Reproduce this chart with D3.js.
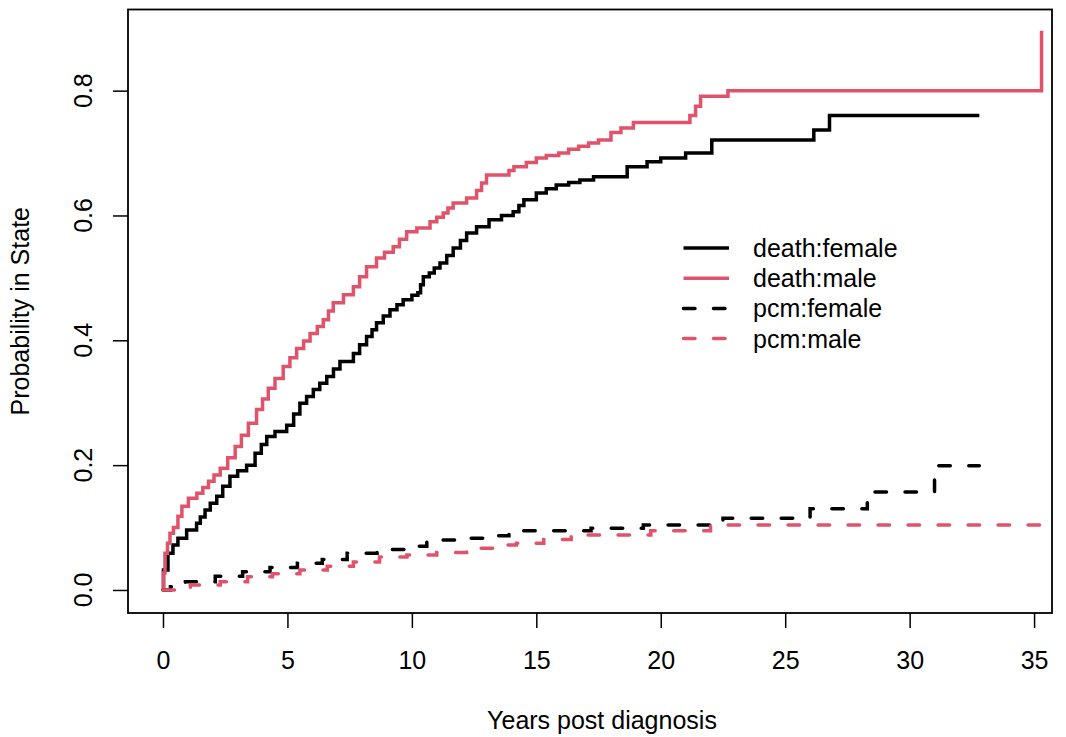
<!DOCTYPE html>
<head>
    <meta charset="utf-8">
    <style>
        body {
            margin: 0;
            background: #fff;
        }
        svg text {
            font-family: "Liberation Sans", Arial, sans-serif;
            font-size: 25px;
            fill: #000;
        }
    </style>
</head>
<body>
    <div id="chart-area"></div>
    <script src="https://cdn.jsdelivr.net/npm/d3@7"></script>
    <script>
        // step curves: time (years) / probability
        var deathFemaleT = [0, 0.02, 0.2, 0.4, 0.6, 0.95, 1.35, 1.5, 1.69, 1.9, 2.16, 2.4, 2.69, 3.0, 3.36, 3.7, 3.95, 4.17, 4.5, 4.97, 5.25, 5.5, 5.77, 6.04, 6.3, 6.58, 6.85, 7.11, 7.65, 7.9, 8.18, 8.4, 8.58, 8.85, 9.12, 9.4, 9.65, 10.0, 10.24, 10.35, 10.46, 10.7, 10.9, 11.13, 11.4, 11.66, 11.95, 12.2, 12.6, 13.1, 13.6, 14.07, 14.3, 14.5, 15.0, 15.4, 15.8, 16.3, 16.75, 17.3, 18.65, 19.45, 20.0, 21.0, 22.05, 26.15, 26.78, 32.8]
        var deathFemaleV = [0, 0.032, 0.059, 0.072, 0.083, 0.096, 0.107, 0.117, 0.128, 0.139, 0.15, 0.166, 0.182, 0.191, 0.2, 0.219, 0.233, 0.246, 0.254, 0.264, 0.282, 0.299, 0.31, 0.321, 0.331, 0.342, 0.354, 0.366, 0.379, 0.393, 0.406, 0.417, 0.428, 0.439, 0.449, 0.457, 0.465, 0.472, 0.476, 0.489, 0.502, 0.508, 0.516, 0.524, 0.536, 0.548, 0.56, 0.572, 0.582, 0.593, 0.6, 0.606, 0.616, 0.625, 0.636, 0.643, 0.649, 0.653, 0.657, 0.662, 0.678, 0.686, 0.692, 0.70, 0.721, 0.737, 0.76, 0.76]

        var deathMaleT = [0, 0.02, 0.08, 0.18, 0.28, 0.42, 0.6, 0.76, 1.02, 1.36, 1.6, 1.83, 2.05, 2.3, 2.6, 2.9, 3.15, 3.43, 3.76, 4.0, 4.23, 4.5, 4.83, 5.1, 5.37, 5.65, 5.91, 6.2, 6.44, 6.65, 6.84, 7.25, 7.65, 7.9, 8.18, 8.58, 8.9, 9.25, 9.5, 9.79, 10.2, 10.73, 11.0, 11.26, 11.45, 11.66, 12.2, 12.6, 12.8, 13.0, 13.9, 14.1, 14.6, 15.0, 15.4, 15.9, 16.3, 16.7, 17.1, 17.5, 18.0, 18.4, 18.9, 21.17, 21.4, 21.6, 22.7, 35.3]
        var deathMaleV = [0, 0.027, 0.059, 0.075, 0.091, 0.10, 0.118, 0.134, 0.147, 0.155, 0.164, 0.174, 0.184, 0.195, 0.212, 0.23, 0.248, 0.267, 0.289, 0.306, 0.323, 0.339, 0.358, 0.372, 0.387, 0.399, 0.411, 0.422, 0.433, 0.447, 0.46, 0.473, 0.486, 0.502, 0.518, 0.532, 0.541, 0.55, 0.562, 0.574, 0.58, 0.59, 0.597, 0.604, 0.612, 0.62, 0.628, 0.64, 0.652, 0.665, 0.672, 0.678, 0.685, 0.692, 0.696, 0.70, 0.706, 0.711, 0.716, 0.721, 0.733, 0.74, 0.749, 0.76, 0.775, 0.791, 0.80, 0.896]

        var pcmFemaleT = [0, 0.3, 0.9, 2.1, 3.2, 4.3, 5.4, 6.4, 7.4, 8.6, 9.7, 10.6, 11.8, 12.9, 13.9, 17.2, 19.3, 22.5, 26.0, 28.3, 31.0, 32.8]
        var pcmFemaleV = [0, 0.005, 0.013, 0.022, 0.029, 0.036, 0.043, 0.049, 0.059, 0.065, 0.07, 0.08, 0.083, 0.087, 0.095, 0.099, 0.104, 0.115, 0.13, 0.157, 0.199, 0.199]

        var pcmMaleT = [0, 1.1, 2.3, 3.4, 4.4, 5.5, 6.6, 7.65, 8.7, 9.8, 11.0, 12.2, 13.3, 14.2, 15.3, 16.4, 19.6, 22.0, 35.3]
        var pcmMaleV = [0, 0.008, 0.013, 0.021, 0.026, 0.032, 0.038, 0.045, 0.053, 0.056, 0.06, 0.067, 0.072, 0.075, 0.081, 0.088, 0.095, 0.104, 0.104]

        var seriesNames = ["death:female", "death:male", "pcm:female", "pcm:male"]
        var xTicks = [0, 5, 10, 15, 20, 25, 30, 35]
        var yTicks = [0, 0.2, 0.4, 0.6, 0.8]

        var red = "#DF536B"
        var series = [
            { name: seriesNames[0], t: deathFemaleT, v: deathFemaleV, color: "#000", dash: null },
            { name: seriesNames[1], t: deathMaleT, v: deathMaleV, color: red, dash: null },
            { name: seriesNames[2], t: pcmFemaleT, v: pcmFemaleV, color: "#000", dash: "11.5,18.5" },
            { name: seriesNames[3], t: pcmMaleT, v: pcmMaleV, color: red, dash: "11.5,18.5" }
        ]

        var W = 1066, H = 737
        var box = { left: 128, right: 1052, top: 9.5, bottom: 613 }

        var x = d3.scaleLinear().domain([-1.406, 35.72]).range([box.left, box.right])
        var y = d3.scaleLinear().domain([-0.0369, 0.930]).range([box.bottom, box.top])

        var svg = d3.select("#chart-area").append("svg")
            .attr("width", W).attr("height", H)

        var line = d3.line()
            .x(d => x(d[0]))
            .y(d => y(d[1]))
            .curve(d3.curveStepAfter)

        svg.selectAll(".curve")
            .data(series)
            .join("path")
            .attr("class", "curve")
            .attr("d", s => line(s.t.map((t, i) => [t, s.v[i]])))
            .attr("fill", "none")
            .attr("stroke", s => s.color)
            .attr("stroke-width", 3.5)
            .attr("stroke-linecap", s => s.dash ? "round" : "butt")
            .attr("stroke-dasharray", s => s.dash)

        // frame
        svg.append("rect")
            .attr("x", box.left).attr("y", box.top)
            .attr("width", box.right - box.left).attr("height", box.bottom - box.top)
            .attr("fill", "none").attr("stroke", "#000").attr("stroke-width", 1.8)

        // x axis
        var xAxis = svg.append("g")
            .attr("transform", `translate(0,${box.bottom})`)
            .call(d3.axisBottom(x).tickValues(xTicks).tickSize(15).tickPadding(23).tickFormat(d3.format("d")))
        xAxis.select(".domain").remove()
        xAxis.selectAll("line").attr("stroke-width", 1.5)
        xAxis.selectAll("text").attr("font-size", null).attr("font-family", null)

        // y axis, labels turned like R
        var yAxis = svg.append("g")
            .attr("transform", `translate(${box.left},0)`)
            .call(d3.axisLeft(y).tickValues(yTicks).tickSize(15).tickFormat(""))
        yAxis.select(".domain").remove()
        yAxis.selectAll("line").attr("stroke-width", 1.5)

        svg.selectAll(".ylab")
            .data(yTicks)
            .join("text")
            .attr("class", "ylab")
            .attr("transform", d => `translate(92,${y(d)}) rotate(-90)`)
            .attr("text-anchor", "middle")
            .text(d3.format(".1f"))

        svg.append("text")
            .attr("x", 602).attr("y", 729)
            .attr("text-anchor", "middle")
            .text("Years post diagnosis")

        svg.append("text")
            .attr("transform", `translate(29,${(box.top + box.bottom) / 2}) rotate(-90)`)
            .attr("text-anchor", "middle")
            .text("Probability in State")

        // legend
        var legend = svg.append("g").attr("transform", "translate(682,248)")
        var row = legend.selectAll("g")
            .data(series)
            .join("g")
            .attr("transform", (d, i) => `translate(0,${i * 30.2})`)
        row.append("line")
            .attr("x1", 1.5).attr("x2", 47)
            .attr("stroke", d => d.color)
            .attr("stroke-width", 3.5)
            .attr("stroke-linecap", d => d.dash ? "round" : "butt")
            .attr("stroke-dasharray", d => d.dash)
        row.append("text")
            .attr("x", 71).attr("y", 9)
            .text(d => d.name)
    </script>
</body>
